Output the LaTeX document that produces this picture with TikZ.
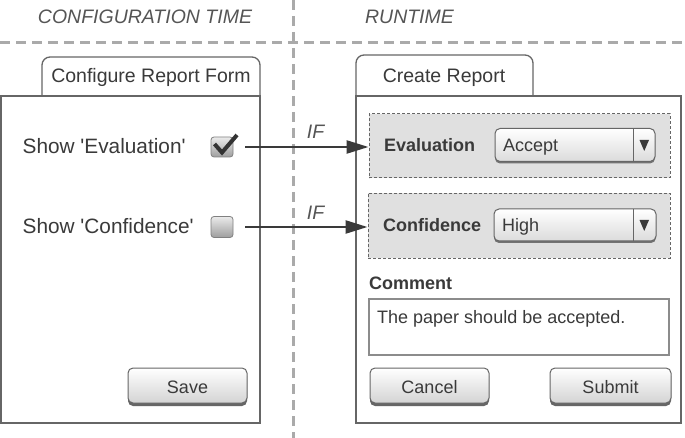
\documentclass[tikz,border=0pt]{standalone}
\usepackage{fontspec}
\newfontfamily\uif{Liberation Sans}
\usetikzlibrary{arrows.meta,shadows}
\definecolor{txt}{HTML}{3A3A3A}
\definecolor{hdr}{HTML}{555555}
\definecolor{frame}{HTML}{666666}
\definecolor{sepc}{HTML}{AAAAAA}
\definecolor{shadebg}{HTML}{E0E0E0}
\begin{document}
\begin{tikzpicture}[x=1pt,y=-1pt,
  font=\uif\fontsize{19.5}{23}\selectfont, text=txt,
  big/.style={font=\uif\fontsize{19.5}{23}\selectfont},
  bigger/.style={font=\uif\fontsize{20.8}{24}\selectfont},
  small/.style={font=\uif\fontsize{18}{21}\selectfont},
  smallbold/.style={font=\uif\bfseries\fontsize{18}{21}\selectfont},
  hdrtext/.style={font=\uif\itshape\fontsize{19.5}{23}\selectfont, text=hdr, inner sep=0pt, anchor=base},
  lbl/.style={inner sep=0pt, anchor=base west},
  ctr/.style={inner sep=0pt, anchor=base},
  sepline/.style={draw=sepc, line width=3pt, dash pattern=on 10pt off 6pt},
  panel/.style={draw=frame, line width=1.3pt, fill=white, inner sep=0pt},
  cond/.style={draw=frame, line width=1pt, dash pattern=on 3pt off 2pt, fill=shadebg, inner sep=0pt},
  btn/.style={draw=frame, line width=1pt, rounded corners=5pt, top color=white, bottom color=black!17,
     inner sep=0pt, drop shadow={shadow xshift=0pt, shadow yshift=-3pt, fill=black!60, opacity=1}},
  ddown/.style={draw=frame, line width=1pt, rounded corners=5pt, top color=white, bottom color=black!14,
     inner sep=0pt, drop shadow={shadow xshift=0pt, shadow yshift=-2pt, fill=black!55, opacity=1}},
  chk/.style={draw=black!50, line width=0.8pt, rounded corners=3pt, top color=black!8, bottom color=black!38, inner sep=0pt},
  arr/.style={draw=txt, line width=2.5pt, -{Triangle[length=22pt, width=13pt]}},
  tab/.style={draw=frame, line width=1.3pt, fill=white, rounded corners=8pt}
]
\useasboundingbox (0,0) rectangle (685,438);

% separators
\draw[sepline] (0,43) -- (685,43);
\draw[sepline] (293,0) -- (293,438);
\node[hdrtext] (hconf) at (145,24) {CONFIGURATION TIME};
\node[hdrtext] (hrun) at (409.5,24) {RUNTIME};

% left panel
\draw[tab] (42,97) -- (42,57) -- (260,57) -- (260,97);
\node[panel, minimum width=259pt, minimum height=327pt] (lbox) at (130.5,259.5) {};
\node[big, ctr] (ltab) at (151,82.7) {Configure Report Form};

\node[lbl, bigger] (showeval) at (22.5,153.3) {Show 'Evaluation'};
\node[lbl, bigger] (showconf) at (22.5,233.3) {Show 'Confidence'};
\node[chk, minimum width=22pt, minimum height=20pt] (cb1) at (222,147) {};
\node[chk, minimum width=22pt, minimum height=21pt] (cb2) at (222,227) {};
\draw[line width=4pt, black!80, line join=miter] (214.5,144) -- (222,152.5) -- (237,135);

\node[btn, minimum width=119pt, minimum height=35pt] (save) at (187.5,385.5) {};
\node[small, ctr] (savet) at (187.5,393) {Save};

% right panel
\draw[tab] (356,97) -- (356,55) -- (533,55) -- (533,97);
\node[panel, minimum width=325pt, minimum height=327pt] (rbox) at (518.5,259.5) {};
\node[big, ctr] (rtab) at (444,83) {Create Report};

\node[cond, minimum width=301pt, minimum height=64pt] (evalbox) at (519.5,146) {};
\node[lbl, smallbold] (evallbl) at (384,152) {Evaluation};
\node[ddown, minimum width=160pt, minimum height=33pt] (dd1) at (575,145) {};
\node[lbl, small] (dd1t) at (503,152) {Accept};
\draw[frame, line width=1pt] (633,128.5) -- (633,161.5);
\fill[txt] (639.5,140) -- (649,140) -- (644.25,151) -- cycle;

\node[cond, minimum width=302pt, minimum height=65pt] (confbox) at (519,226) {};
\node[lbl, smallbold] (conflbl) at (383,232) {Confidence};
\node[ddown, minimum width=162pt, minimum height=32pt] (dd2) at (575,225) {};
\node[lbl, small] (dd2t) at (502,232) {High};
\draw[frame, line width=1pt] (633,209) -- (633,241);
\fill[txt] (639.5,220) -- (649,220) -- (644.25,231) -- cycle;

\node[lbl, smallbold] (commentlbl) at (369,290) {Comment};
\node[draw=black!45, line width=1.5pt, fill=white, minimum width=300pt, minimum height=56pt, inner sep=0pt] (cbox) at (519,327) {};
\node[lbl, small] (ctext) at (377,323) {The paper should be accepted.};

\node[btn, minimum width=119pt, minimum height=35pt] (cancel) at (429.5,385.5) {};
\node[small, ctr] (cancelt) at (429.5,393) {Cancel};
\node[btn, minimum width=121pt, minimum height=35pt] (submit) at (610.5,385.5) {};
\node[small, ctr] (submitt) at (610.5,393) {Submit};

% connectors
\draw[arr] ([xshift=12pt]cb1.east) -- (cb1.east -| evalbox.west);
\draw[arr] ([xshift=12pt]cb2.east) -- (cb2.east -| confbox.west);
\node[hdrtext] (if1) at (315.5,139) {IF};
\node[hdrtext] (if2) at (315.5,220) {IF};
\end{tikzpicture}
\end{document}
